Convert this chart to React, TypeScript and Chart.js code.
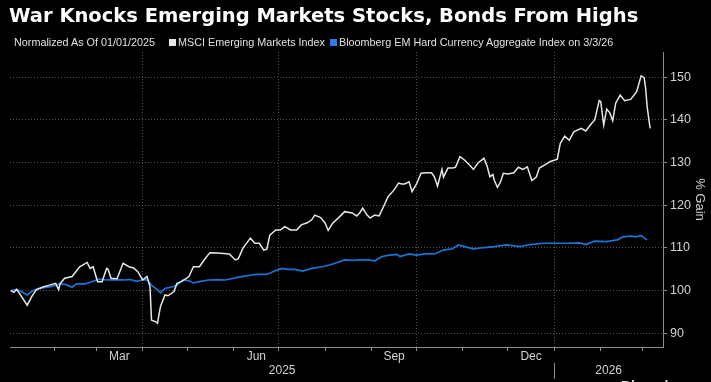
import React, { useEffect, useRef } from "react";
import { Chart, registerables } from "chart.js";

Chart.register(...registerables);

// Days since 2025-01-01
const msciDays = [
  2, 4, 6, 13, 16, 19, 24, 28, 32, 34, 35, 38, 43, 48, 50, 53, 55, 57, 60, 63, 66, 67, 69, 73, 77, 81, 84, 87, 90, 93,
  95, 96, 99, 100, 102, 105, 107, 111, 113, 116, 121, 124, 128, 132, 135, 140, 144, 148, 152, 154, 157, 162, 165, 168,
  171, 173, 175, 179, 182, 185, 189, 193, 196, 200, 203, 205, 209, 212, 214, 217, 221, 225, 230, 233, 235, 237, 240,
  242, 245, 248, 251, 254, 258, 261, 263, 265, 268, 270, 273, 276, 280, 283, 285, 287, 290, 291, 294, 297, 299, 302,
  305, 309, 311, 314, 318, 320, 322, 324, 325, 327, 329, 331, 334, 338, 341, 344, 347, 350, 353, 355, 359, 362, 367,
  369, 372, 375, 378, 383, 386, 390, 392, 395, 396, 398, 400, 402, 404, 406, 409, 412, 416, 420, 423, 425, 426, 427, 429,
];
const msciVals = [
  100, 99.6, 100.3, 96.6, 98.6, 100.2, 100.9, 101.3, 101.7, 100.2, 101.7, 102.9, 103.3, 105.6, 106.0, 106.6, 105.2, 105.6,
  102.1, 102.1, 105.2, 105.0, 102.9, 102.8, 106.4, 105.6, 105.3, 104.4, 102.5, 103.3, 100.9, 93.1, 92.7, 92.4, 96.3,
  99.0, 98.8, 99.8, 101.7, 102.1, 103.3, 105.6, 105.6, 107.6, 108.9, 108.8, 108.7, 108.6, 107.2, 107.5, 109.9, 112.3,
  111.1, 111.1, 109.5, 109.7, 113.0, 114.2, 114.2, 115.0, 114.2, 114.2, 115.4, 115.9, 116.6, 117.7, 117.1, 115.8, 114.1,
  115.8, 117.1, 118.5, 118.2, 117.5, 118.2, 119.3, 117.7, 117.0, 117.7, 117.5, 119.7, 122.0, 123.6, 125.2, 125.0, 125.0,
  125.5, 123.2, 125.0, 127.5, 127.6, 127.6, 126.6, 124.5, 128.4, 126.6, 128.7, 128.7, 128.9, 131.4, 130.6, 129.2, 128.4,
  129.9, 131.0, 129.3, 126.7, 127.2, 125.8, 124.2, 125.4, 127.5, 127.3, 127.6, 128.9, 128.4, 129.0, 125.8, 126.6, 128.7,
  129.5, 130.2, 130.8, 134.5, 136.2, 135.2, 137.2, 138.0, 137.4, 139.2, 140.0, 144.5, 144.3, 138.8, 142.5, 141.7, 139.8,
  143.9, 145.8, 144.5, 144.8, 146.6, 150.3, 149.9, 147.4, 143.1, 138.0,
];

const bbgDays = [
  2, 6, 9, 13, 16, 20, 28, 35, 39, 43, 46, 52, 56, 61, 66, 72, 77, 82, 86, 90, 93, 96, 100, 102, 105, 110, 113, 117, 121,
  124, 128, 134, 140, 145, 151, 156, 162, 166, 173, 179, 183, 187, 192, 197, 203, 210, 215, 220, 225, 231, 235, 240, 245,
  250, 255, 260, 262, 268, 273, 279, 285, 291, 297, 301, 305, 311, 318, 325, 333, 342, 349, 358, 367, 373, 382, 386, 392,
  400, 407, 411, 416, 419, 423, 427,
];
const bbgVals = [
  100, 100.3, 99.8, 99.0, 99.8, 100.5, 100.9, 101.6, 101.4, 100.8, 101.6, 101.6, 102.1, 102.7, 102.5, 102.5, 102.5, 102.6,
  102.2, 102.5, 102.6, 101.3, 100.2, 99.5, 100.5, 100.9, 101.3, 102.5, 102.3, 101.8, 102.1, 102.5, 102.6, 102.5, 102.9,
  103.3, 103.6, 103.8, 103.8, 104.7, 105.2, 105.0, 105.0, 104.6, 105.2, 105.6, 106.0, 106.6, 107.2, 107.1, 107.2, 107.2,
  107.0, 108.0, 108.3, 108.5, 108.0, 108.6, 108.3, 108.6, 108.6, 109.5, 109.8, 110.7, 110.3, 109.8, 110.1, 110.3, 110.7,
  110.3, 110.8, 111.1, 111.1, 111.1, 111.2, 110.8, 111.6, 111.5, 111.9, 112.6, 112.8, 112.6, 112.9, 111.9,
];

// Axis definitions
const monthStarts = [31, 59, 90, 120, 151, 181, 212, 243, 273, 304, 334, 365, 396, 424];
const quarterStarts = [90, 181, 273, 365];
const monthLabels = ["Mar", "Jun", "Sep", "Dec"];
const monthLabelFrom = [59, 151, 243, 334];
const monthLabelTo = [90, 181, 273, 365];
const yearLabels = ["2025", "2026"];
const yearBoundary = 365;
const yTicks = [90, 100, 110, 120, 130, 140, 150];
const X_MIN = 1.5;
const X_MAX = 437.6;
const Y_MIN = 86.8;
const Y_MAX = 155.9;

const FONT = '"Liberation Sans", Arial, sans-serif';
const TITLE_FONT = '"DejaVu Sans", "Liberation Sans", sans-serif';
const WHITE = "#e6e6e6";
const BLUE = "#1a74d8";
const GRID = "rgba(255,255,255,0.32)";
const AXIS = "#8c8c8c";
const LABEL = "#d2d2d2";

const xLabelPlugin = {
  id: "xLabels",
  afterDraw(chart: any) {
    const xs = chart.scales.x;
    const ctx = chart.ctx;
    ctx.save();
    ctx.fillStyle = LABEL;
    ctx.font = `12px ${FONT}`;
    ctx.textAlign = "center";
    ctx.textBaseline = "middle";
    monthLabels.forEach((lab, i) => {
      const a = xs.getPixelForValue(monthLabelFrom[i]);
      const b = xs.getPixelForValue(monthLabelTo[i]);
      ctx.fillText(lab, (a + b) / 2, xs.top + 10);
    });
    const sep = xs.getPixelForValue(yearBoundary);
    ctx.fillText(yearLabels[0], (xs.left + sep) / 2, xs.top + 24);
    ctx.fillText(yearLabels[1], (sep + xs.right) / 2, xs.top + 24);
    ctx.strokeStyle = AXIS;
    ctx.lineWidth = 1;
    ctx.beginPath();
    ctx.moveTo(Math.round(sep) + 0.5, xs.top + 16);
    ctx.lineTo(Math.round(sep) + 0.5, xs.top + 32);
    ctx.stroke();
    ctx.restore();
  },
};

export default function App() {
  const ref = useRef<HTMLCanvasElement | null>(null);

  useEffect(() => {
    if (!ref.current) return;
    const chart = new Chart(ref.current, {
      type: "line",
      data: {
        datasets: [
          {
            label: "MSCI Emerging Markets Index",
            data: msciDays.map((d, i) => ({ x: d, y: msciVals[i] })),
            borderColor: WHITE,
            borderWidth: 1.5,
            pointRadius: 0,
            tension: 0,
          },
          {
            label: "Bloomberg EM Hard Currency Aggregate Index on 3/3/26",
            data: bbgDays.map((d, i) => ({ x: d, y: bbgVals[i] })),
            borderColor: BLUE,
            borderWidth: 1.7,
            pointRadius: 0,
            tension: 0,
          },
        ],
      },
      options: {
        animation: false,
        responsive: false,
        devicePixelRatio: 1,
        layout: { padding: { left: 10, top: 52, right: 0, bottom: 0 } },
        plugins: { legend: { display: false }, tooltip: { enabled: false }, title: { display: false } },
        scales: {
          x: {
            type: "linear",
            min: X_MIN,
            max: X_MAX,
            afterBuildTicks: (s: any) => {
              s.ticks = monthStarts.filter((v) => v >= X_MIN && v <= X_MAX).map((v) => ({ value: v }));
            },
            afterFit: (s: any) => {
              s.height = 35;
            },
            ticks: { autoSkip: false, callback: () => "", maxRotation: 0 },
            grid: {
              color: (c: any) => (c.tick && quarterStarts.includes(c.tick.value) ? GRID : "transparent"),
              tickColor: AXIS,
              tickLength: 4,
              lineWidth: 1,
            },
            border: { color: AXIS, width: 1, dash: [1, 2] },
          },
          y: {
            position: "right",
            min: Y_MIN,
            max: Y_MAX,
            afterBuildTicks: (s: any) => {
              s.ticks = yTicks.map((v) => ({ value: v }));
            },
            afterFit: (s: any) => {
              s.width = 48;
            },
            ticks: { color: LABEL, font: { family: FONT, size: 12.5 }, padding: 3 },
            grid: { color: GRID, tickColor: AXIS, tickLength: 4, lineWidth: 1 },
            border: { color: AXIS, width: 1, dash: [1, 2] },
            title: { display: true, text: "% Gain", color: LABEL, font: { family: FONT, size: 13 } },
          },
        },
      },
      plugins: [xLabelPlugin],
    } as any);
    return () => chart.destroy();
  }, []);

  const sq = (color: string) => ({
    position: "absolute" as const,
    width: 7,
    height: 7,
    background: color,
    top: 2,
  });

  return (
    <div
      style={{
        position: "fixed",
        left: 0,
        top: 0,
        width: 711,
        height: 382,
        background: "#000",
        overflow: "hidden",
        fontFamily: FONT,
      }}
    >
      <canvas ref={ref} width={711} height={382} style={{ position: "absolute", left: 0, top: 0, width: 711, height: 382 }} />
      <div
        style={{
          position: "absolute",
          left: 9,
          top: 6,
          fontFamily: TITLE_FONT,
          fontSize: 19.5,
          lineHeight: "20px",
          fontWeight: 700,
          color: "#fff",
          whiteSpace: "nowrap",
        }}
      >
        War Knocks Emerging Markets Stocks, Bonds From Highs
      </div>
      <div style={{ position: "absolute", left: 0, top: 37, fontSize: 10.8, lineHeight: "11px", color: "#e0e0e0", whiteSpace: "nowrap", width: 711 }}>
        <span style={{ position: "absolute", left: 14 }}>Normalized As Of 01/01/2025</span>
        <span style={{ ...sq(WHITE), left: 169 }} />
        <span style={{ position: "absolute", left: 178 }}>MSCI Emerging Markets Index</span>
        <span style={{ ...sq("#2a7de8"), left: 330 }} />
        <span style={{ position: "absolute", left: 339 }}>Bloomberg EM Hard Currency Aggregate Index on 3/3/26</span>
      </div>
      <div style={{ position: "absolute", left: 621, top: 379, fontSize: 14, fontWeight: 700, color: "#d0d0d0", lineHeight: "14px" }}>
        Bloomberg
      </div>
    </div>
  );
}
